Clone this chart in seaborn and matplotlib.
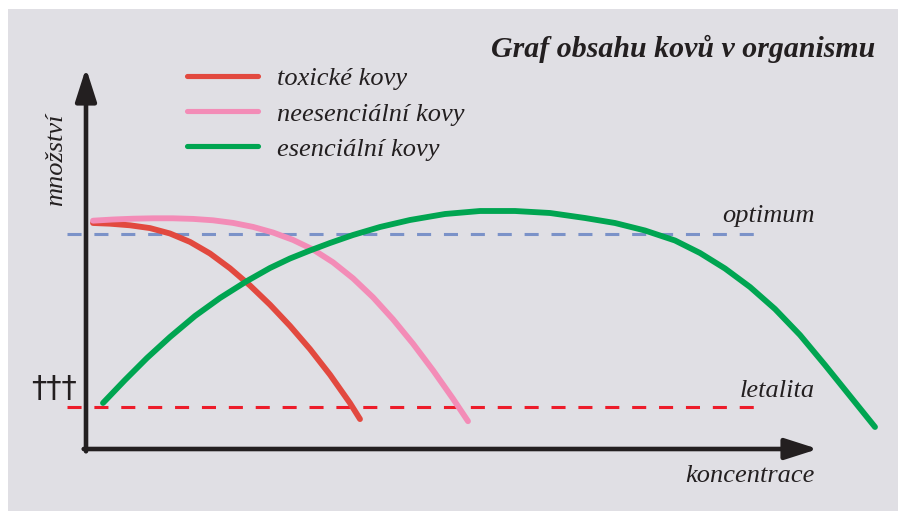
import numpy as np
import pandas as pd
import matplotlib
matplotlib.use("Agg")
import matplotlib.pyplot as plt
import seaborn as sns

# ---------------- data (chart units: concentration, amount) ----------------
series_names = ["toxické kovy", "neesenciální kovy", "esenciální kovy"]

tox_x = [7, 24, 44, 64, 84, 104, 124, 144, 164, 184, 204, 224, 244, 264, 274]
tox_y = [226, 225.3, 223.7, 220.9, 215.5, 207.1, 195.5, 180.7, 163.5, 144.3, 123.1, 99.9, 74.3, 45.9, 29.9]

nees_x = [7, 27, 47, 67, 87, 107, 127, 147, 167, 187, 207, 227, 247, 267, 287, 307, 327, 347, 367, 382]
nees_y = [228.3, 229.5, 230.3, 230.7, 230.7, 230.1, 228.7, 226.1, 222.1, 216.5, 209.1, 199.5, 186.7,
          170.7, 151.7, 129.7, 105.3, 78.7, 50.3, 27.8]

ess_x = [17, 39, 61, 84, 109, 134, 161, 184, 204, 224, 244, 267, 294, 324, 359, 394, 429, 464,
         499, 529, 559, 589, 614, 639, 664, 689, 714, 739, 764, 789]
ess_y = [46, 69, 91, 112, 133, 151, 168, 181, 190.5, 198.5, 206, 214, 222, 229, 235, 238, 238, 236,
         231, 226, 218.5, 208.5, 196, 180.5, 162, 140, 114, 84, 53, 22]

optimum_level = 215
letalita_level = 42
level_span = (-19, 676)

title = "Graf obsahu kovů v organismu"
x_label = "koncentrace"
y_label = "množství"
level_labels = ["optimum", "letalita"]
death_mark = "†††"

colors = {"toxické kovy": "#e2493f", "neesenciální kovy": "#f38cb7", "esenciální kovy": "#00a551"}

# ---------------- figure ----------------
sns.set_theme(style="white")
plt.rcParams["font.family"] = ["Liberation Serif", "DejaVu Serif"]

W, H = 898, 511
fig = plt.figure(figsize=(W / 100, H / 100), dpi=100, facecolor="white")
ox, oy = 86, 449
px0, py0, px1, py1 = 8, 9, 898, 511
ax = fig.add_axes([px0 / W, 0, (px1 - px0) / W, (py1 - py0) / H])
ax.set_xlim(px0 - ox, px1 - ox)
ax.set_ylim(oy - py1, oy - py0)
ax.set_facecolor("#e0dfe4")
for s in ax.spines.values():
    s.set_visible(False)
ax.set_xticks([])
ax.set_yticks([])

df = pd.concat([
    pd.DataFrame({"x": tox_x, "y": tox_y, "kov": series_names[0]}),
    pd.DataFrame({"x": nees_x, "y": nees_y, "kov": series_names[1]}),
    pd.DataFrame({"x": ess_x, "y": ess_y, "kov": series_names[2]}),
])

# reference levels
ax.hlines(optimum_level, *level_span, colors="#7b92c8", lw=2.2,
          linestyles=(0, (4.6, 4.2)), zorder=1)
ax.hlines(letalita_level, *level_span, colors="#ed1c2a", lw=2.2,
          linestyles=(0, (4.6, 4.2)), zorder=1)

sns.lineplot(data=df, x="x", y="y", hue="kov", hue_order=series_names, palette=colors,
             estimator=None, sort=False, lw=4.2, ax=ax, zorder=3,
             solid_capstyle="round", solid_joinstyle="round")
ax.set_xlabel("")
ax.set_ylabel("")

# axes arrows
axcol = "#231f20"
ax.annotate("", xy=(0, 381), xytext=(0, -2.3),
            arrowprops=dict(arrowstyle="-|>,head_length=1.0,head_width=0.32",
                            mutation_scale=20, lw=3.3, color=axcol,
                            shrinkA=0, shrinkB=0), zorder=4)
ax.annotate("", xy=(732, 0), xytext=(-2.3, 0),
            arrowprops=dict(arrowstyle="-|>,head_length=1.0,head_width=0.32",
                            mutation_scale=20, lw=3.3, color=axcol,
                            shrinkA=0, shrinkB=0), zorder=4)

# texts
tc = "#231f20"
ax.text(789, 392, title, ha="right", va="baseline", fontsize=21.5,
        fontweight="bold", fontstyle="italic", color=tc)
ax.text(-30, 289, y_label, ha="center", va="center", rotation=90,
        fontsize=19, fontstyle="italic", color=tc)
ax.text(729, -33, x_label, ha="right", va="baseline", fontsize=19,
        fontstyle="italic", color=tc)
ax.text(729, 227, level_labels[0], ha="right", va="baseline", fontsize=19,
        fontstyle="italic", color=tc)
ax.text(729, 52, level_labels[1], ha="right", va="baseline", fontsize=19,
        fontstyle="italic", color=tc)
ax.text(-32, 61, death_mark, ha="center", va="center", fontsize=22,
        family=["DejaVu Sans"], color=tc)

leg = ax.legend(loc="upper left", bbox_to_anchor=(101, 382), bbox_transform=ax.transData,
                frameon=False, borderpad=0, borderaxespad=0, handlelength=2.7,
                handletextpad=0.72, labelspacing=0.44,
                prop={"size": 19, "style": "italic", "family": "Liberation Serif"})
for t in leg.get_texts():
    t.set_color(tc)
for l in leg.get_lines():
    l.set_linewidth(3.7)
    l.set_solid_capstyle("round")

fig.savefig("out.png", dpi=100, facecolor="white")
